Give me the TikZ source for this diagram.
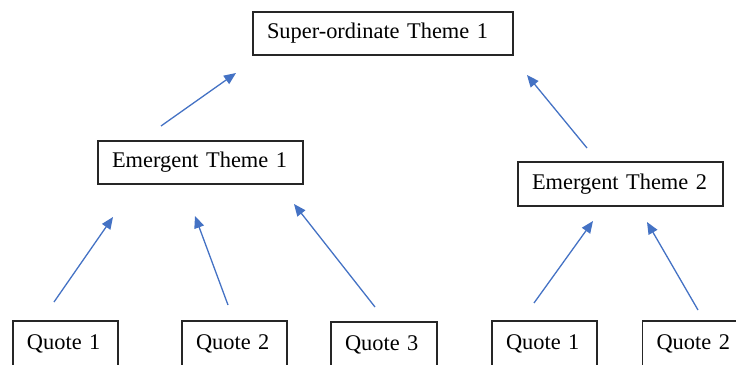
\documentclass[tikz,border=0pt]{standalone}
\usepackage{fontspec}
\setmainfont{Liberation Serif}
\usetikzlibrary{arrows.meta}
\begin{document}
\begin{tikzpicture}[x=1pt,y=-1pt,
  box/.style={draw=black!85,line width=1.1pt,inner ysep=0pt,inner xsep=14pt,align=left,font=\fontsize{22.4}{26}\selectfont},
  conn/.style={draw={rgb,255:red,68;green,114;blue,196},line width=1.3pt,-{Triangle[length=12pt,width=10pt]}}]
\useasboundingbox (0,0) rectangle (736,364);
\clip (0,0) rectangle (736,364);
\node[box,text width=232,minimum height=43] (sup) at (383,33.5) {Super-ordinate Theme 1};
\node[box,text width=177,minimum height=43] (e1) at (200.5,162.5) {Emergent Theme 1};
\node[box,text width=177,minimum height=44] (e2) at (620.5,184) {Emergent Theme 2};
\node[box,text width=77,minimum height=46] (q1) at (65.5,344) {Quote 1};
\node[box,text width=77,minimum height=46] (q2) at (234.5,344) {Quote 2};
\node[box,text width=78,minimum height=46] (q3) at (384,345) {Quote 3};
\node[box,text width=77,minimum height=46] (r1) at (544.5,344) {Quote 1};
\node[box,text width=90,minimum height=46,anchor=west] (r2) at (642,344) {Quote 2};
% arrow end points
\coordinate (a1s) at (161,126); \coordinate (a1e) at (236,73);
\coordinate (a2s) at (587,148); \coordinate (a2e) at (527,75);
\coordinate (b1s) at (54,302);  \coordinate (b1e) at (113,217);
\coordinate (b2s) at (228,305); \coordinate (b2e) at (195,216);
\coordinate (b3s) at (375,307); \coordinate (b3e) at (294,204);
\coordinate (c1s) at (534,303); \coordinate (c1e) at (593,221);
\coordinate (c2s) at (698,310); \coordinate (c2e) at (647,222);
\draw[conn] (a1s) -- (a1e);
\draw[conn] (a2s) -- (a2e);
\draw[conn] (b1s) -- (b1e);
\draw[conn] (b2s) -- (b2e);
\draw[conn] (b3s) -- (b3e);
\draw[conn] (c1s) -- (c1e);
\draw[conn] (c2s) -- (c2e);
\end{tikzpicture}
\end{document}
